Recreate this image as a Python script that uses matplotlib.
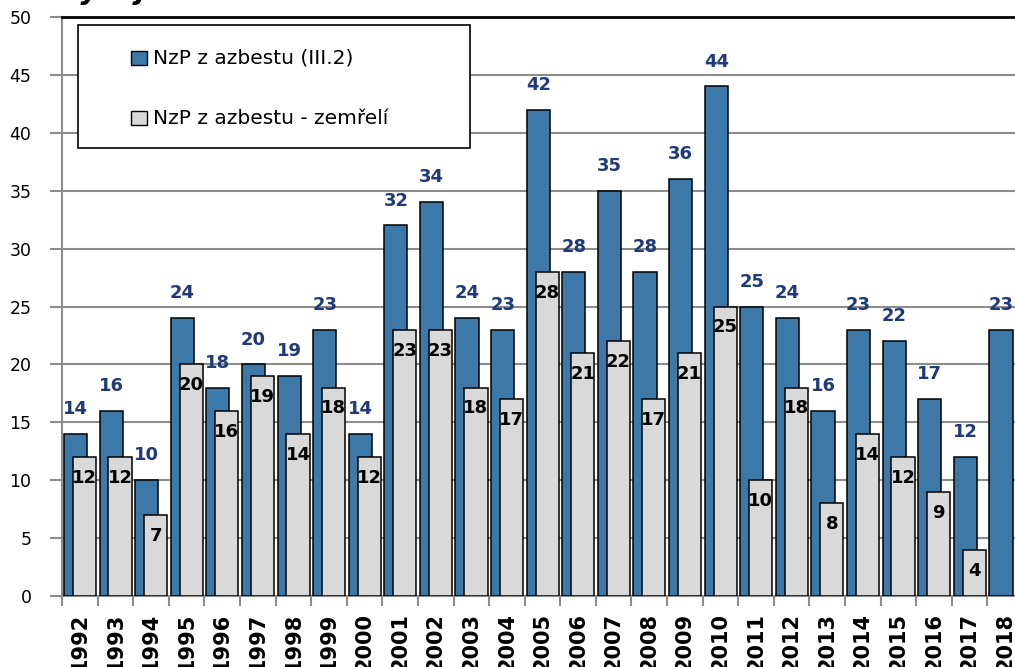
import numpy as np
import matplotlib
matplotlib.use("Agg")
import matplotlib.pyplot as plt
from matplotlib.patches import Rectangle

plt.rcParams["font.family"] = ["DejaVu Sans"]

# data
years = [str(y) for y in range(1992, 2019)]
nzp_total = [14, 16, 10, 24, 18, 20, 19, 23, 14, 32, 34, 24, 23, 42, 28, 35, 28,
             36, 44, 25, 24, 16, 23, 22, 17, 12, 23]
nzp_dead = [12, 12, 7, 20, 16, 19, 14, 18, 12, 23, 23, 18, 17, 28, 21, 22, 17,
            21, 25, 10, 18, 8, 14, 12, 9, 4, None]
series_names = ["NzP z azbestu (III.2)", "NzP z azbestu - zemřelí"]

BLUE = "#3C78A8"
GREY = "#D9D9D9"
NAVY = "#1F3A78"
GRID = "#8C8C8C"

fig = plt.figure(figsize=(10.15, 6.67), dpi=100)
# plot area runs a bit past the right edge, like the cropped original
ax = fig.add_axes([62 / 1015, 71 / 667, 961 / 1015, 579 / 667])

x = np.arange(len(years))
w = 0.65
ax.bar(x + 0.38, nzp_total, width=w, color=BLUE, edgecolor="black",
       linewidth=1.1, zorder=3)
dead_x = [xi + 0.63 for xi, v in zip(x, nzp_dead) if v is not None]
dead_v = [v for v in nzp_dead if v is not None]
ax.bar(dead_x, dead_v, width=w, color=GREY, edgecolor="black",
       linewidth=1.1, zorder=4)

# value labels
for xi, v in zip(x, nzp_total):
    ax.text(xi + 0.38, v + 2.15, str(v), ha="center", va="center",
            fontsize=13, fontweight="bold", color=NAVY, zorder=5)
for xi, v in zip(dead_x, dead_v):
    ax.text(xi, v - 1.8, str(v), ha="center", va="center",
            fontsize=13, fontweight="bold", color="black", zorder=5)

ax.set_xlim(0, len(years))
ax.set_ylim(0, 50)
ax.set_yticks(range(0, 51, 5))
ax.set_xticks(np.arange(0, len(years) + 1))
ax.set_xticklabels([])
ax.set_xticks(x + 0.5, minor=True)
ax.set_xticklabels(years, minor=True, rotation=90, fontsize=15,
                   fontweight="bold", va="top")
ax.tick_params(axis="x", which="major", length=7, width=1.5, color=GRID)
ax.tick_params(axis="x", which="minor", length=0, pad=12)
ax.tick_params(axis="y", length=9, width=1.5, color=GRID, labelsize=12.5,
               pad=13)

ax.yaxis.grid(True, color=GRID, linewidth=1.5, zorder=0)
ax.set_axisbelow(True)
for side in ("left", "bottom"):
    ax.spines[side].set_color(GRID)
    ax.spines[side].set_linewidth(1.5)
ax.spines["top"].set_color("black")
ax.spines["top"].set_linewidth(2)
ax.spines["right"].set_visible(False)

# legend box drawn by hand to match the spacing of the original
tr = ax.transAxes
ax.add_patch(Rectangle((0.0167, 0.774), 0.408, 0.212, transform=tr,
                       facecolor="white", edgecolor="black", linewidth=1.2,
                       zorder=6))
for fy, color, name in [(0.929, BLUE, series_names[0]),
                        (0.825, GREY, series_names[1])]:
    ax.add_patch(Rectangle((0.0718, fy - 0.012), 0.0166, 0.024, transform=tr,
                           facecolor=color, edgecolor="black", linewidth=1.0,
                           zorder=7))
    ax.text(0.0947, fy, name, transform=tr, ha="left", va="center",
            fontsize=14.5, zorder=7)

# title is cropped by the top edge in the original
fig.text(460 / 1015, 1.0 + 1 / 667, "Vývoj incidence NzP z azbestu v letech 1992 - 2018",
         ha="center", va="baseline", fontsize=20, fontweight="bold",
         fontstyle="italic")

fig.savefig("out.png", dpi=100, facecolor="white")
